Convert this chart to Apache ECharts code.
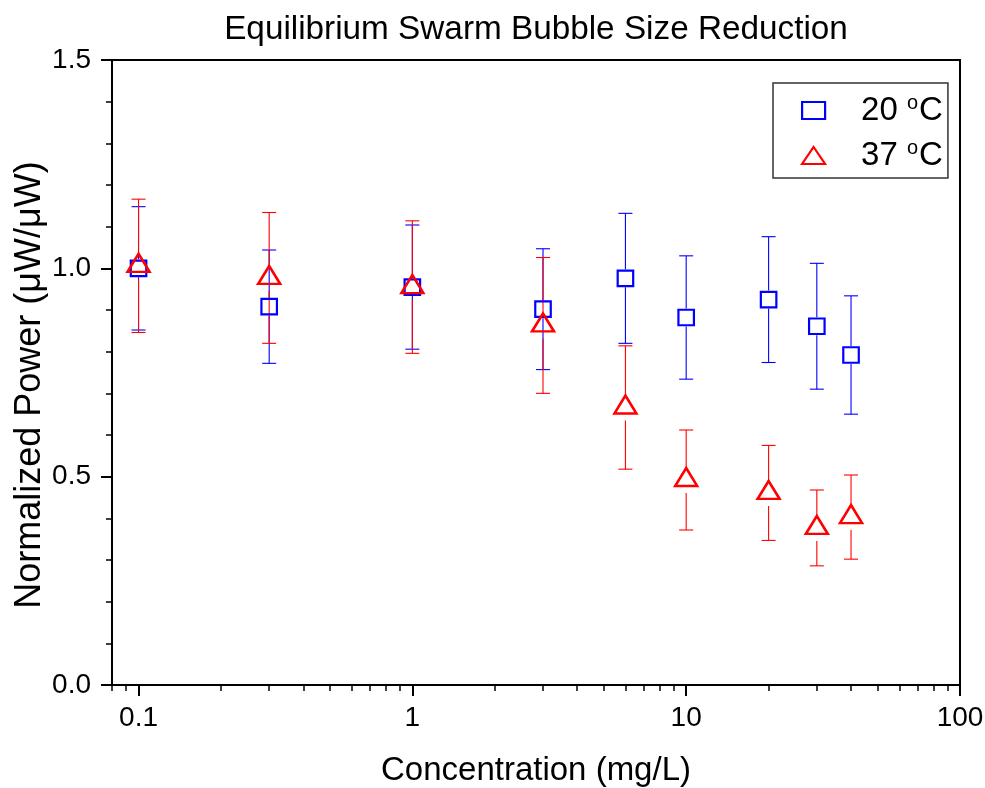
<!DOCTYPE html>
<html>
<head>
<meta charset="utf-8">
<script src="https://cdn.jsdelivr.net/npm/echarts@6/dist/echarts.min.js"></script>
<style>
  html, body { margin: 0; padding: 0; background: #fff; }
  #chart { width: 985px; height: 788px; }
</style>
</head>
<body>
<div id="chart"></div>
<script>
// Surfactant concentration (mg/L)
const concentrations = [0.1, 0.3, 1, 3, 6, 10, 20, 30, 40];

// Normalized power and its error at 20 °C
const power20 = [1.000, 0.908, 0.955, 0.902, 0.976, 0.882, 0.925, 0.861, 0.792];
const err20   = [0.148, 0.136, 0.149, 0.145, 0.156, 0.148, 0.151, 0.151, 0.142];

// Normalized power and its error at 37 °C
const power37 = [1.006, 0.977, 0.955, 0.863, 0.666, 0.492, 0.461, 0.377, 0.403];
const err37   = [0.160, 0.157, 0.159, 0.163, 0.148, 0.120, 0.114, 0.091, 0.101];

// Axis ticks
const xMajorTicks = [0.1, 1, 10, 100];
const xMajorLabels = ['0.1', '1', '10', '100'];
const xMinorTicks = [0.08, 0.09, 0.2, 0.3, 0.4, 0.5, 0.6, 0.7, 0.8, 0.9,
                     2, 3, 4, 5, 6, 7, 8, 9, 20, 30, 40, 50, 60, 70, 80, 90];

const seriesNames = ['20 °C', '37 °C'];
const BLUE = '#0000ff';
const RED = '#ff0000';
const FONT = '"Liberation Sans", Arial, sans-serif';

// Vertical error bar with caps; the stem stops at the marker outline
function errorBars(xs, ys, errs, color, gapUp, gapDown) {
  return {
    type: 'custom',
    xAxisIndex: 0,
    yAxisIndex: 0,
    silent: true,
    data: xs.map((x, i) => [x, ys[i] - errs[i], ys[i] + errs[i], ys[i]]),
    encode: { x: 0, y: [1, 2] },
    renderItem: function (params, api) {
      const x = api.value(0);
      const lo = api.coord([x, api.value(1)]);
      const hi = api.coord([x, api.value(2)]);
      const mid = api.coord([x, api.value(3)]);
      const half = 7;
      const style = { stroke: color, lineWidth: 1.1 };
      return {
        type: 'group',
        children: [
          { type: 'line', shape: { x1: hi[0], y1: hi[1], x2: mid[0], y2: mid[1] - gapUp }, style: style },
          { type: 'line', shape: { x1: mid[0], y1: mid[1] + gapDown, x2: lo[0], y2: lo[1] }, style: style },
          { type: 'line', shape: { x1: hi[0] - half, y1: hi[1], x2: hi[0] + half, y2: hi[1] }, style: style },
          { type: 'line', shape: { x1: lo[0] - half, y1: lo[1], x2: lo[0] + half, y2: lo[1] }, style: style }
        ]
      };
    }
  };
}

const chart = echarts.init(document.getElementById('chart'), null, { renderer: 'canvas' });

const option = {
  backgroundColor: '#ffffff',
  animation: false,
  textStyle: { fontFamily: FONT, color: '#000' },
  title: {
    text: 'Equilibrium Swarm Bubble Size Reduction',
    left: 531,
    top: 8,
    textAlign: 'center',
    textStyle: { fontFamily: FONT, fontSize: 33.3, fontWeight: 'normal', color: '#000' }
  },
  grid: {
    left: 112, right: 25, top: 60, bottom: 103,
    outerBoundsMode: 'none',
    containLabel: false,
    show: true, borderColor: '#000', borderWidth: 2, backgroundColor: 'transparent'
  },
  legend: {
    orient: 'vertical',
    left: 773,
    top: 83,
    padding: [10, 5, 6, 28],
    itemWidth: 23,
    itemHeight: 17,
    itemGap: 11,
    borderColor: '#333',
    borderWidth: 1.5,
    selectedMode: false,
    itemStyle: { borderWidth: 2.2 },
    data: [
      { name: seriesNames[0], icon: 'rect' },
      { name: seriesNames[1], icon: 'path://M11.5,0L23,17L0,17Z' }
    ],
    formatter: function (name) {
      const num = name.split(' ')[0];
      return '{a|' + num + ' }{s|o}{t|C}';
    },
    textStyle: {
      rich: {
        a: { fontFamily: FONT, fontSize: 33, lineHeight: 35, color: '#000', padding: [0, 0, 0, 31] },
        s: { fontFamily: FONT, fontSize: 20, lineHeight: 35, color: '#000', verticalAlign: 'top', padding: [0, 1, 0, 0] },
        t: { fontFamily: FONT, fontSize: 33, lineHeight: 35, color: '#000' }
      }
    }
  },
  xAxis: [
    {
      type: 'log',
      logBase: 10,
      min: 0.08,
      max: 100,
      position: 'bottom',
      name: 'Concentration (mg/L)',
      nameLocation: 'middle',
      nameGap: 69,
      nameMoveOverlap: false,
      nameTextStyle: { fontFamily: FONT, fontSize: 33, color: '#000' },
      axisLine: { show: true, lineStyle: { color: '#000', width: 2 } },
      axisTick: { show: true, customValues: xMajorTicks, length: 11, lineStyle: { color: '#000', width: 2 } },
      axisLabel: {
        customValues: xMajorTicks,
        margin: 19,
        fontFamily: FONT, fontSize: 28, color: '#000',
        formatter: function (v) {
          const i = xMajorTicks.findIndex(t => Math.abs(Math.log10(t) - Math.log10(v)) < 1e-6);
          return i >= 0 ? xMajorLabels[i] : '';
        }
      },
      splitLine: { show: false },
      minorTick: { show: false },
      minorSplitLine: { show: false }
    },
    {
      type: 'log',
      logBase: 10,
      min: 0.08,
      max: 100,
      position: 'bottom',
      axisLine: { show: false },
      axisTick: { show: true, customValues: xMinorTicks, length: 6, lineStyle: { color: '#000', width: 1.5 } },
      axisLabel: { show: false },
      splitLine: { show: false }
    }
  ],
  yAxis: {
    type: 'value',
    min: 0,
    max: 1.5,
    interval: 0.5,
    name: 'Normalized Power (\u03bcW/\u03bcW)',
    nameLocation: 'middle',
    nameGap: 64,
    nameMoveOverlap: false,
    nameTextStyle: { fontFamily: FONT, fontSize: 36, color: '#000', padding: [0, 25, 0, 0] },
    axisLine: { show: true, lineStyle: { color: '#000', width: 2 } },
    axisTick: { show: true, length: 11, lineStyle: { color: '#000', width: 2 } },
    minorTick: { show: true, splitNumber: 5, length: 6, lineStyle: { color: '#000', width: 1.5 } },
    axisLabel: {
      margin: 21,
      fontFamily: FONT, fontSize: 28, color: '#000',
      formatter: v => v.toFixed(1)
    },
    splitLine: { show: false },
    minorSplitLine: { show: false }
  },
  series: [
    errorBars(concentrations, power20, err20, BLUE, 9, 9),
    {
      name: seriesNames[0],
      type: 'scatter',
      xAxisIndex: 0,
      symbol: 'rect',
      symbolSize: 15.5,
      itemStyle: { color: 'rgba(0,0,0,0)', borderColor: BLUE, borderWidth: 2.2, opacity: 1 },
      data: concentrations.map((x, i) => [x, power20[i]])
    },
    errorBars(concentrations, power37, err37, RED, 13, 13),
    {
      name: seriesNames[1],
      type: 'scatter',
      xAxisIndex: 0,
      symbol: 'triangle',
      symbolSize: [22, 18],
      // the triangle sits on its centroid
      symbolOffset: [0, -3],
      itemStyle: { color: 'rgba(0,0,0,0)', borderColor: RED, borderWidth: 2.5, opacity: 1 },
      data: concentrations.map((x, i) => [x, power37[i]])
    }
  ]
};

chart.setOption(option);
</script>
</body>
</html>
